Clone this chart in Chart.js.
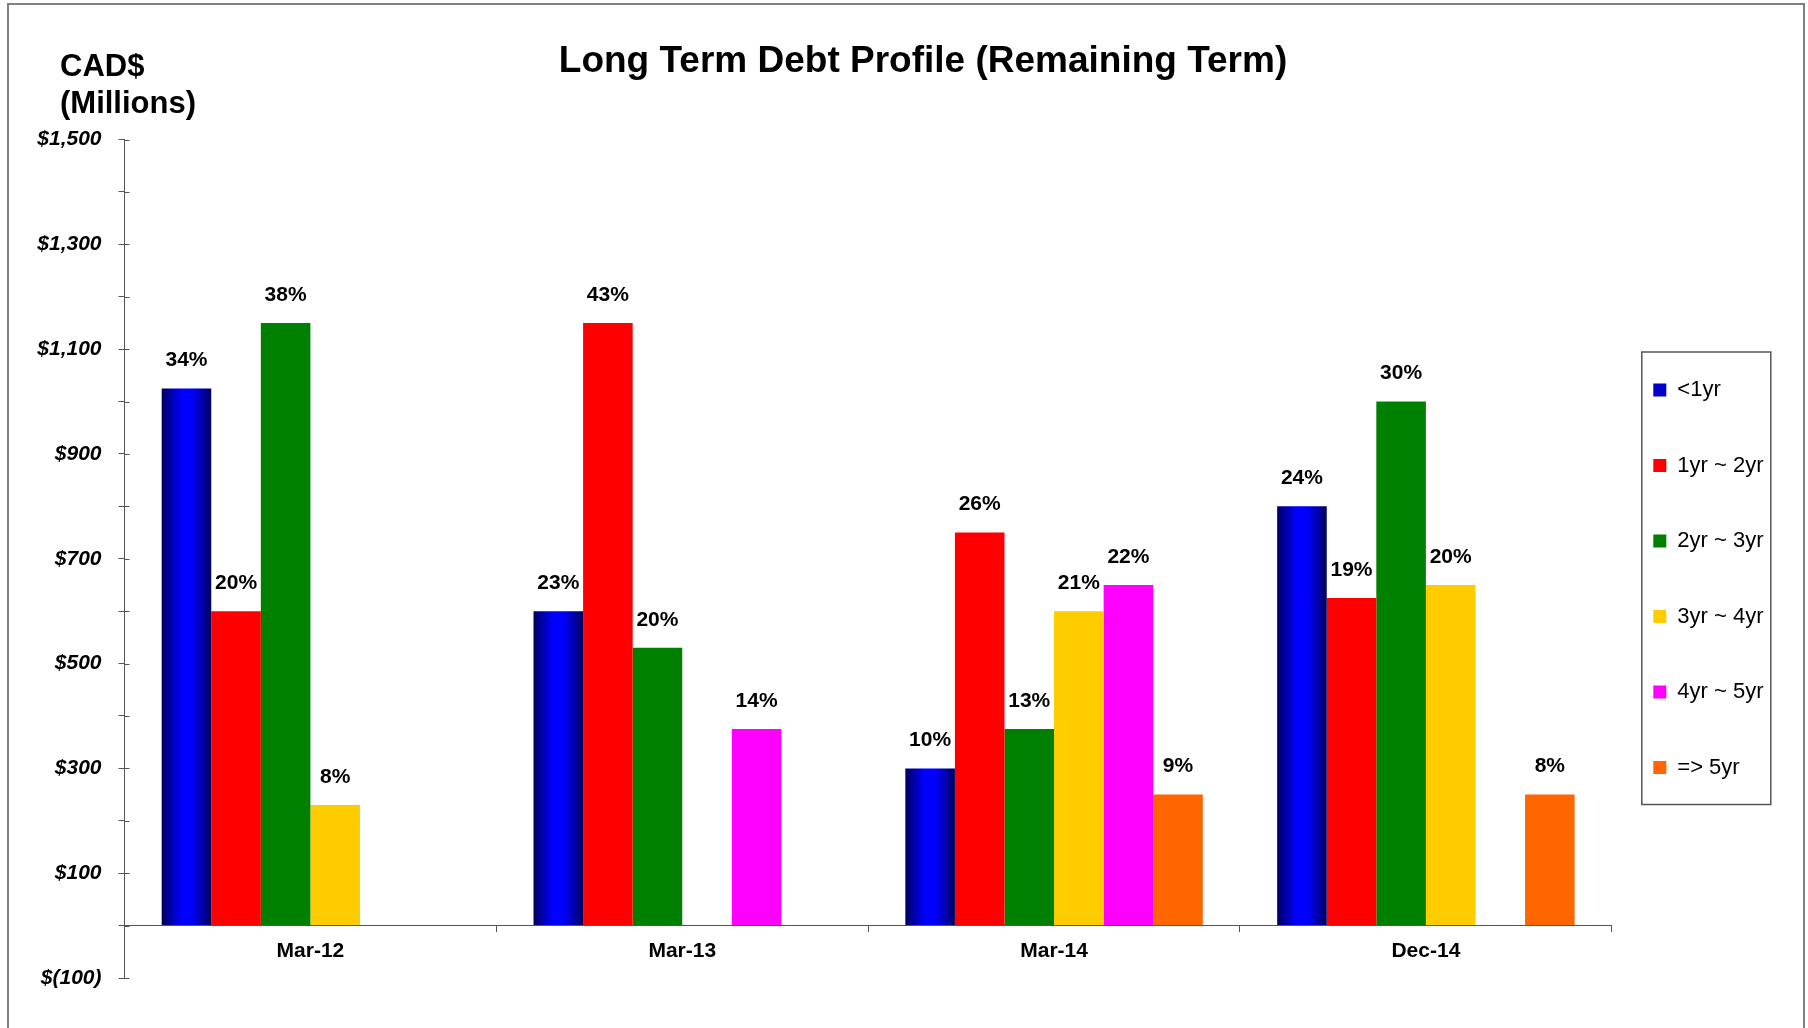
<!DOCTYPE html>
<html>
<head>
<meta charset="utf-8">
<script src="https://cdn.jsdelivr.net/npm/chart.js@4.4.1/dist/chart.umd.min.js"></script>
<style>
  html, body { margin: 0; padding: 0; background: #fff; }
  canvas { display: block; }
</style>
</head>
<body>
<canvas id="debt" width="1808" height="1028"></canvas>
<script>
var categories = ["Mar-12", "Mar-13", "Mar-14", "Dec-14"];
var terms = ["<1yr", "1yr ~ 2yr", "2yr ~ 3yr", "3yr ~ 4yr", "4yr ~ 5yr", "=> 5yr"];

// CAD$ millions per remaining term
var underOne = [1025, 600, 300, 800];
var oneToTwo = [600, 1150, 750, 625];
var twoToThree = [1150, 530, 375, 1000];
var threeToFour = [230, null, 600, 650];
var fourToFive = [null, 375, 650, null];
var overFive = [null, null, 250, 250];

// share of total, shown above each bar
var underOnePct = [34, 23, 10, 24];
var oneToTwoPct = [20, 43, 26, 19];
var twoToThreePct = [38, 20, 13, 30];
var threeToFourPct = [8, null, 21, 20];
var fourToFivePct = [null, 14, 22, null];
var overFivePct = [null, null, 9, 8];

var yTicks = [-100, 100, 300, 500, 700, 900, 1100, 1300, 1500];

var FONT = "'Liberation Sans', Arial, sans-serif";

// navy -> blue -> navy shading on the <1yr bars
function blueCylinder(context) {
  var bar = context.element;
  if (!bar || bar.x === undefined || !bar.width) return "#0000cc";
  var half = bar.width / 2;
  var g = context.chart.ctx.createLinearGradient(bar.x - half, 0, bar.x + half, 0);
  g.addColorStop(0, "#00005a");
  g.addColorStop(0.15, "#0000a0");
  g.addColorStop(0.4, "#0000ff");
  g.addColorStop(0.6, "#0000ff");
  g.addColorStop(0.85, "#0000a0");
  g.addColorStop(1, "#00005a");
  return g;
}

var debtData = {
  labels: categories,
  datasets: [
    { label: terms[0], data: underOne, pct: underOnePct, backgroundColor: blueCylinder },
    { label: terms[1], data: oneToTwo, pct: oneToTwoPct, backgroundColor: "#ff0000" },
    { label: terms[2], data: twoToThree, pct: twoToThreePct, backgroundColor: "#008000" },
    { label: terms[3], data: threeToFour, pct: threeToFourPct, backgroundColor: "#ffcc00" },
    { label: terms[4], data: fourToFive, pct: fourToFivePct, backgroundColor: "#ff00ff" },
    { label: terms[5], data: overFive, pct: overFivePct, backgroundColor: "#ff6600" },
  ],
};

// percent labels, header texts, legend frame and page border
var extras = {
  id: "extras",
  afterDatasetsDraw: function (chart) {
    var ctx = chart.ctx;
    ctx.save();
    ctx.font = "bold 21px " + FONT;
    ctx.fillStyle = "#000";
    ctx.textAlign = "center";
    ctx.textBaseline = "middle";
    chart.data.datasets.forEach(function (ds, i) {
      chart.getDatasetMeta(i).data.forEach(function (bar, j) {
        var p = ds.pct[j];
        if (p == null || ds.data[j] == null) return;
        ctx.fillText(p + "%", bar.x, bar.y - 28);
      });
    });
    ctx.restore();
  },
  afterDraw: function (chart) {
    var ctx = chart.ctx;
    var area = chart.chartArea;
    ctx.save();

    // inner half of the y tick marks
    var y = chart.scales.y;
    ctx.strokeStyle = "#555";
    ctx.lineWidth = 1;
    ctx.beginPath();
    y.ticks.forEach(function (t) {
      var py = Math.round(y.getPixelForValue(t.value)) + 0.5;
      ctx.moveTo(area.left, py);
      ctx.lineTo(area.left + 5, py);
    });
    ctx.stroke();

    ctx.fillStyle = "#000";
    ctx.textBaseline = "middle";
    ctx.textAlign = "center";
    ctx.font = "bold 37px " + FONT;
    ctx.fillText("Long Term Debt Profile (Remaining Term)", 923, 62);

    ctx.textAlign = "left";
    ctx.font = "bold 31px " + FONT;
    ctx.fillText("CAD$", 60, 67);
    ctx.fillText("(Millions)", 60, 104);

    var boxes = chart.legend.legendHitBoxes;
    if (boxes && boxes.length) {
      var first = boxes[0];
      var last = boxes[boxes.length - 1];
      ctx.strokeStyle = "#555";
      ctx.lineWidth = 1.5;
      ctx.strokeRect(first.left - 11.5, first.top - 27, 129, last.top - first.top + 75);
    }

    ctx.strokeStyle = "#808080";
    ctx.lineWidth = 2;
    ctx.strokeRect(8, 4, 1796, 1100);
    ctx.restore();
  },
};

var debtOptions = {
  responsive: false,
  animation: false,
  layout: { padding: { left: 20, right: 34.5, top: 139.5, bottom: 50 } },
  datasets: { bar: { categoryPercentage: 0.8, barPercentage: 1.0, borderWidth: 0 } },
  plugins: {
    title: { display: false },
    legend: {
      position: "right",
      fullSize: false,
      // empty title just nudges the items down inside the frame
      title: { display: true, text: "", padding: 0, font: { size: 26, lineHeight: 2 } },
      labels: {
        color: "#000",
        // lineHeight sets the row pitch (array text uses it), padding the indent
        font: { family: FONT, size: 22, lineHeight: "34px" },
        boxWidth: 13,
        boxHeight: 13,
        padding: 41.5,
        generateLabels: function (chart) {
          var items = Chart.defaults.plugins.legend.labels.generateLabels(chart);
          items.forEach(function (item) { item.text = [item.text]; });
          items[0].fillStyle = "#0000c8";
          return items;
        },
      },
    },
    tooltip: { enabled: false },
  },
  scales: {
    x: {
      position: { y: 0 },
      afterFit: function (scale) { scale.height = 0; },
      grid: { drawOnChartArea: false, tickLength: 6, color: "#555", offset: true },
      border: { color: "#555", width: 1 },
      ticks: { color: "#000", padding: 7, font: { family: FONT, size: 21, weight: "bold" } },
    },
    y: {
      min: -100,
      max: 1500,
      afterFit: function (scale) { scale.width = 104.5; },
      grid: { drawOnChartArea: false, tickLength: 6, color: "#555" },
      border: { color: "#555", width: 1 },
      ticks: {
        stepSize: 100,
        autoSkip: false,
        padding: 17,
        color: "#000",
        font: { family: FONT, size: 21, weight: "bold", style: "italic" },
        callback: function (v) {
          if (yTicks.indexOf(v) < 0) return "";
          if (v < 0) return "$(" + Math.abs(v) + ")";
          return "$" + v.toLocaleString("en-US");
        },
      },
    },
  },
};

var ctx = document.getElementById("debt").getContext("2d");
var debtChart = new Chart(ctx, {
  type: "bar",
  data: debtData,
  options: debtOptions,
  plugins: [extras],
});
// second pass so the gradient can use the laid-out bar positions
debtChart.update("none");
</script>
</body>
</html>
